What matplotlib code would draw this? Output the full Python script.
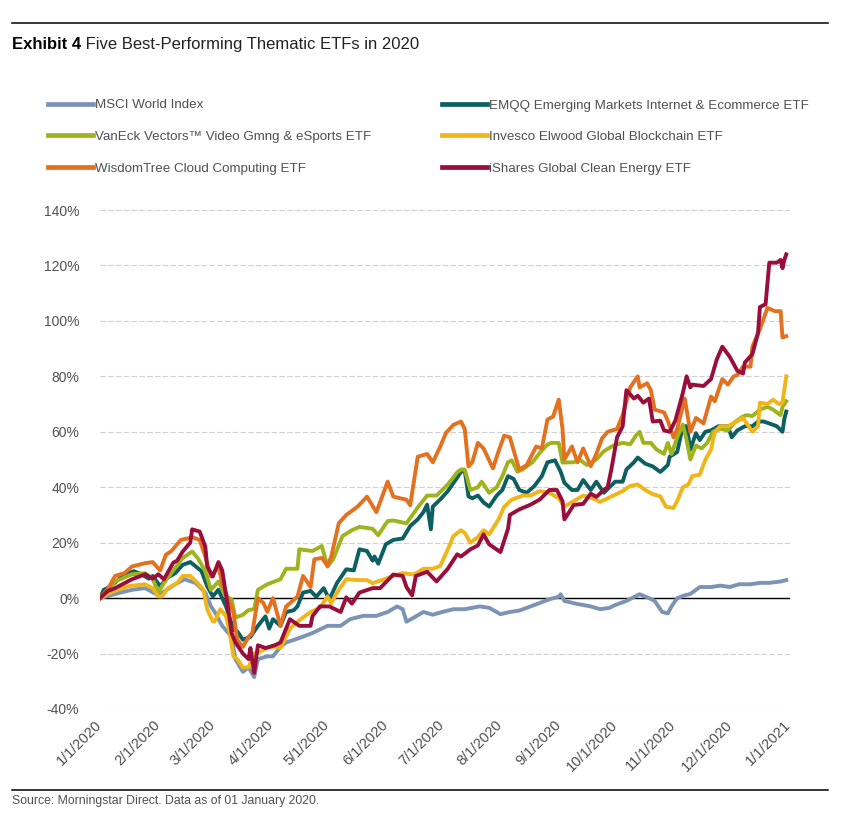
import matplotlib
matplotlib.use('Agg')
import matplotlib.pyplot as plt
from matplotlib.lines import Line2D
import pandas as pd

plt.rcParams['font.family'] = ['Liberation Sans', 'DejaVu Sans']

START = pd.Timestamp('2020-01-01')

# day offsets from 1/1/2020 and cumulative return (%)
msci_days = [0, 8, 17, 24, 31, 40, 45, 51, 56, 59, 61, 65, 70, 72, 76, 79, 82, 84, 89, 92, 96, 99,
             106, 113, 121, 128, 133, 140, 147, 153, 158, 161, 163, 167, 172, 177, 182, 188, 194,
             202, 207, 213, 218, 223, 231, 239, 244, 245, 247, 253, 261, 266, 271, 274, 280, 287,
             292, 295, 299, 302, 304, 307, 311, 314, 319, 325, 330, 335, 340, 346, 351, 356, 362, 365]
msci_vals = [0, 1.5, 3, 3.6, 1, 5, 6.8, 5.4, 2, -3, -5, -10, -14, -22, -26.6, -25, -28.5, -22, -21,
             -21, -17.6, -16, -14.4, -12.6, -10, -10, -7.6, -6.4, -6.4, -5, -3, -4, -8.5, -7, -5, -6,
             -5, -4, -4, -3, -3.5, -5.8, -5, -4.5, -2.5, -0.4, 0.5, 1.4, -1, -2, -3, -4, -3.5, -2.5,
             -1, 1.4, 0, -1, -5, -5.5, -3, 0, 1, 1.5, 4, 4, 4.5, 4, 5, 5, 5.5, 5.5, 6, 6.5]

emqq_days = [0, 2, 4, 8, 13, 18, 22, 26, 28, 32, 36, 40, 44, 48, 51, 54, 57, 60, 63, 67, 71, 73, 76,
             80, 84, 88, 90, 92, 96, 99, 103, 105, 108, 112, 115, 119, 122, 126, 131, 135, 138, 142,
             145, 146, 148, 152, 156, 161, 165, 169, 172, 174, 176, 177, 181, 185, 190, 192, 194,
             196, 198, 201, 204, 207, 211, 214, 217, 220, 223, 227, 231, 235, 238, 242, 245, 247,
             251, 254, 257, 261, 264, 268, 271, 274, 278, 280, 284, 286, 290, 294, 298, 302, 303,
             307, 310, 312, 314, 317, 319, 322, 325, 329, 334, 336, 339, 343, 347, 350, 353, 356,
             360, 363, 364, 365]
emqq_vals = [0, 3, 3.6, 5.6, 8.6, 9.7, 8.6, 7, 8, 4.3, 7.4, 9, 12, 13, 11.4, 9.7, 4.3, 0.6, 3, -3,
             -11.4, -12, -15, -14, -10, -6.6, -11, -7.6, -10, -5, -4.4, -3, 2, 2.6, 0.5, 3.6, -0.5,
             5.4, 10.4, 10, 17.6, 17, 13.5, 15, 12.4, 19.4, 21, 21.5, 26, 28.4, 31, 33.7, 24.8, 33,
             35.6, 38.6, 43.5, 45.6, 46, 36.7, 36, 37, 34.5, 33, 37, 39, 44, 43, 39, 38, 40.4, 44,
             49, 49.7, 45.6, 41.6, 39, 39, 42.6, 39, 42, 38, 40, 42, 42, 46.4, 49, 50.7, 48.5, 47.5,
             45.5, 48, 51, 52.7, 62, 62, 53.6, 59.5, 57, 60, 60.5, 62, 62, 58, 60.5, 62, 62, 63.7,
             63.7, 63, 62, 60, 64.7, 67.3]

vaneck_days = [0, 8, 17, 24, 28, 31, 34, 39, 44, 49, 52, 56, 59, 63, 67, 70, 72, 76, 79, 82, 84, 89,
               96, 99, 105, 106, 113, 118, 121, 124, 129, 134, 138, 145, 148, 153, 156, 163, 169,
               174, 179, 185, 190, 192, 194, 197, 201, 203, 207, 211, 214, 217, 219, 222, 225, 230,
               234, 238, 240, 244, 246, 252, 255, 259, 264, 268, 273, 278, 282, 285, 287, 289, 293,
               296, 300, 302, 304, 307, 310, 312, 314, 317, 320, 323, 326, 330, 334, 338, 342, 344,
               347, 351, 355, 358, 362, 363, 365]
vaneck_vals = [0, 6, 8.6, 9, 7, 2, 5.4, 10, 14.5, 16.8, 14.4, 9.7, 3, 6, 0.6, -0.5, -7, -6, -4.3, -4,
               3, 5, 6.8, 10.6, 10.6, 17.6, 17, 18.8, 11.4, 14, 22.4, 24.5, 25.7, 25, 22.7, 27.8, 28,
               27, 32.7, 37, 37, 41, 45.4, 46.4, 46.4, 39, 40, 42, 38, 40, 44, 49, 49.7, 45.6, 46.5,
               49, 52.5, 55.4, 56, 56, 48.9, 49, 50, 48, 50, 53, 55, 56, 55.5, 58.6, 60, 56, 56, 53.6,
               52, 56, 52, 58, 62.6, 57, 50, 55, 54, 56, 60, 61, 60.5, 63.7, 65.5, 66, 65.7, 68, 69,
               68, 66, 69, 71]

invesco_days = [0, 4, 8, 15, 24, 28, 31, 33, 36, 41, 44, 48, 52, 55, 57, 60, 61, 64, 67, 69, 71, 73,
                76, 79, 82, 86, 89, 93, 96, 101, 106, 112, 117, 121, 123, 127, 131, 137, 142, 145,
                150, 156, 161, 167, 172, 177, 181, 185, 188, 192, 194, 197, 201, 204, 207, 212, 215,
                219, 225, 229, 234, 239, 244, 247, 252, 257, 262, 266, 270, 273, 278, 282, 286, 290,
                294, 298, 301, 305, 307, 310, 313, 315, 319, 322, 325, 327, 330, 334, 338, 342, 344,
                347, 350, 351, 355, 358, 361, 363, 365]
invesco_vals = [0, 1.5, 2.6, 4.3, 5, 3.6, 0.6, 0.6, 3.6, 5.4, 8, 8, 5.4, 3, -4, -8.4, -8.4, -4, -6.5,
                -12.6, -21, -22, -25, -25, -20, -19, -18, -17.5, -18, -11, -8, -5, -3.5, 0.6, -1.8, 3,
                6.8, 6.5, 6.5, 5.4, 6.5, 8, 9, 8.5, 10.6, 10.6, 11.6, 17.6, 22.4, 24.5, 23.5, 20, 22,
                24.5, 23, 28.4, 33, 35.5, 37, 37, 38.6, 38, 36, 33, 35, 37, 36, 34.7, 36, 37, 38.6,
                40.5, 41, 39, 37.5, 36.7, 33, 32.5, 35, 40, 41, 44, 44.5, 50, 53.6, 60, 62, 62, 63.5,
                65, 63, 60, 62, 70.5, 70, 71.6, 70, 70.5, 80]

wisdom_days = [0, 4, 8, 13, 17, 24, 28, 32, 35, 38, 43, 47, 49, 53, 56, 59, 63, 65, 68, 71, 73, 76,
               79, 81, 84, 87, 89, 92, 96, 99, 105, 108, 112, 114, 118, 121, 123, 127, 131, 137, 142,
               147, 153, 156, 163, 165, 169, 174, 177, 181, 184, 188, 192, 194, 196, 198, 201, 204,
               209, 212, 215, 218, 221, 223, 227, 232, 235, 238, 241, 244, 246, 247, 251, 254, 257,
               261, 264, 267, 270, 275, 278, 282, 286, 287, 291, 293, 295, 300, 302, 305, 307, 311,
               314, 317, 321, 325, 327, 331, 334, 337, 339, 342, 346, 347, 351, 355, 359, 362, 363,
               365]
wisdom_vals = [0, 3, 8, 9, 11.4, 12.6, 13, 10, 15.6, 17, 21, 21.6, 22, 21, 15, 7.8, 11.4, 5.4, 0,
               -5.4, -15, -17.6, -14, -12.6, 0, -1.8, -5, 0, -10, -3, 0.5, 8, 4, 14, 14.5, 11.6, 15,
               27, 30, 33, 36.6, 31, 42, 36.6, 35.5, 33.5, 51, 52, 49, 54.7, 59.6, 62.5, 63.7, 61,
               47.5, 49, 56, 54, 46.8, 53, 58.6, 58, 51, 46.4, 48, 54.7, 54, 64.4, 65.5, 71.6, 61, 50,
               54.7, 49, 54, 47.6, 52, 57.6, 60, 61, 66, 76, 80, 76, 77.5, 75, 68, 67, 64, 58, 61, 72,
               60, 65, 63, 72.7, 71, 79, 77, 80, 80.5, 83.5, 83.5, 90.7, 97, 104.7, 103.5, 103.5, 94,
               94.5]

ishares_days = [0, 4, 8, 17, 24, 28, 31, 34, 39, 41, 44, 48, 49, 53, 56, 57, 60, 63, 65, 68, 70, 72,
                76, 79, 80, 82, 84, 88, 93, 96, 101, 106, 112, 113, 117, 122, 128, 131, 134, 138, 145,
                149, 156, 161, 163, 166, 168, 174, 179, 185, 190, 192, 197, 201, 204, 207, 213, 217,
                218, 223, 229, 234, 239, 243, 246, 247, 252, 257, 261, 264, 268, 270, 272, 275, 278,
                280, 284, 286, 289, 292, 294, 298, 300, 303, 306, 310, 312, 314, 315, 321, 325, 328,
                331, 335, 339, 342, 343, 347, 350, 351, 354, 356, 360, 362, 363, 364, 365]
ishares_vals = [0, 2.5, 3.6, 6.8, 8.6, 7, 8.6, 6.8, 12.8, 13.5, 16.8, 20, 24.8, 24, 18.6, 11.4, 7.8,
                13, 10, -3, -12.6, -16, -20, -22, -18, -27, -17, -18, -17, -16, -7.6, -10, -10, -6.5,
                -3, -3, -5, 0.3, -2, 2, 3.6, 3.6, 8.5, 8, 4, 1, 8, 9.5, 6, 10.6, 15.8, 15, 17.6, 19, 23,
                19.4, 16.6, 25, 30, 32, 33.7, 35.6, 39, 39, 35, 28.4, 33.6, 34, 37.7, 36.5, 39, 40,
                46.5, 58, 62, 75, 72, 73, 70.5, 72, 63.7, 64, 60.5, 60, 64, 74, 80, 76, 77, 76.5, 79,
                86, 90.7, 87, 82, 81, 85, 88, 95.7, 105, 106, 121, 121, 122, 119, 122, 124]

names = ['MSCI World Index',
         'EMQQ Emerging Markets Internet & Ecommerce ETF',
         'VanEck Vectors\u2122 Video Gmng & eSports ETF',
         'Invesco Elwood Global Blockchain ETF',
         'WisdomTree Cloud Computing ETF',
         'iShares Global Clean Energy ETF']
colors = ['#7b94b5', '#0d5f62', '#9db41d', '#efb519', '#e3711f', '#990e3b']
series = [(msci_days, msci_vals), (emqq_days, emqq_vals), (vaneck_days, vaneck_vals),
          (invesco_days, invesco_vals), (wisdom_days, wisdom_vals), (ishares_days, ishares_vals)]

yticks = list(range(-40, 141, 20))
xticks = pd.date_range('2020-01-01', '2021-01-01', freq='MS')
xlabels = [f'{d.month}/{d.day}/{d.year}' for d in xticks]

fig = plt.figure(figsize=(8.44, 8.17), dpi=100)
ax = fig.add_axes([100/844, 1 - 709/817, 690/844, 499/817])

for i in [0, 3, 1, 2, 4, 5]:
    d, v = series[i]
    dates = START + pd.to_timedelta(d, unit='D')
    ax.plot(dates, v, color=colors[i], lw=2.8, solid_joinstyle='round', zorder=3 + i)

ax.axhline(0, color='black', lw=1.0, zorder=2)
ax.set_ylim(-40, 140)
ax.set_xlim(pd.Timestamp('2020-01-01'), pd.Timestamp('2021-01-02'))
ax.set_yticks(yticks)
ax.set_yticklabels([f'{t}%' for t in yticks])
ax.set_xticks(xticks)
ax.set_xticklabels(xlabels, rotation=45, ha='right', va='center', rotation_mode='anchor')
ax.yaxis.grid(True, color='#cfcfcf', lw=0.8, linestyle=(0, (5, 2)))
ax.set_axisbelow(True)
for s in ax.spines.values():
    s.set_visible(False)
ax.tick_params(axis='both', length=0, colors='#505050')
ax.tick_params(axis='y', labelsize=10, pad=15)
ax.tick_params(axis='x', labelsize=10.5, pad=10)

# rules, title, source
fig.add_artist(Line2D([12/844, 828/844], [1 - 23/817] * 2, color='black', lw=1.1))
fig.add_artist(Line2D([12/844, 828/844], [1 - 790/817] * 2, color='black', lw=1.1))
t1 = fig.text(12/844, 1 - 49/817, 'Exhibit 4', fontsize=12, fontweight='bold', color='black', va='baseline')
fig.canvas.draw()
ax.annotate(' Five Best-Performing Thematic ETFs in 2020', xy=(1, 0), xycoords=t1,
            fontsize=12, color='#222222', va='bottom', ha='left')
fig.text(12/844, 1 - 801/817, 'Source: Morningstar Direct. Data as of 01 January 2020.',
         fontsize=8.8, color='#505050', va='center')

# legend in two columns
col1 = [0, 2, 4]
col2 = [1, 3, 5]
for cols, x0 in [(col1, 48), (col2, 442)]:
    hs = [Line2D([], [], color=colors[i], lw=3.4) for i in cols]
    leg = fig.legend(hs, [names[i] for i in cols], loc='center left',
                     bbox_to_anchor=(x0/844, 1 - 137/817), frameon=False, fontsize=9.6,
                     handlelength=3.4, handletextpad=0.15, labelspacing=1.45,
                     borderpad=0, borderaxespad=0)
    for t in leg.get_texts():
        t.set_color('#505050')

fig.savefig('out.png', dpi=100)
